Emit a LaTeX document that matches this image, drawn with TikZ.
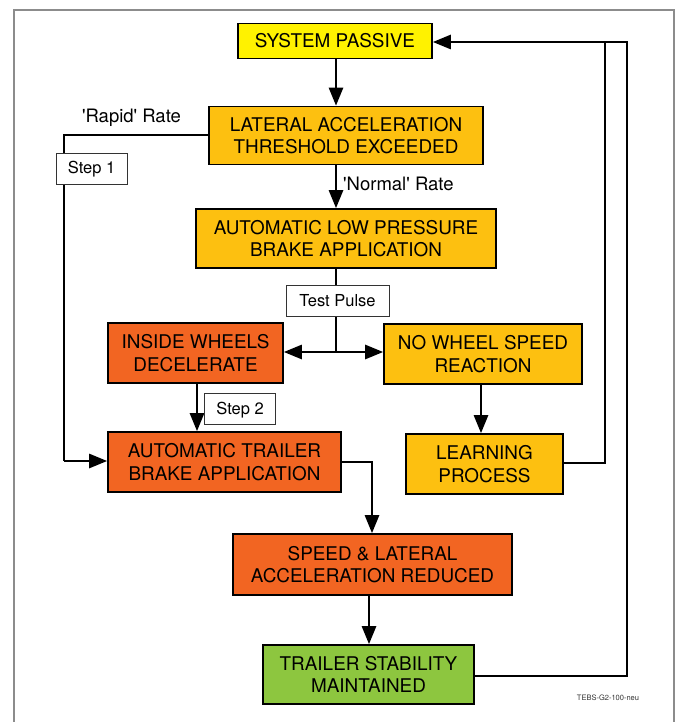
\documentclass[tikz,border=0pt]{standalone}
\usepackage{fontspec}
\setmainfont{TeX Gyre Heros}
\usetikzlibrary{arrows.meta}
\definecolor{cyel}{HTML}{FFF200}
\definecolor{cora}{HTML}{FDC010}
\definecolor{cred}{HTML}{F26522}
\definecolor{cgrn}{HTML}{8DC63F}
\begin{document}
\begin{tikzpicture}[x=1pt,y=-1pt,
  box/.style={draw=black, line width=1.6pt, align=center, inner sep=0pt, font=\fontsize{18.9}{22.7}\selectfont},
  tag/.style={draw=black!80, line width=0.8pt, fill=white, inner sep=0pt, text height=11pt, text depth=0pt, font=\fontsize{16.5}{19}\selectfont},
  lbl/.style={font=\fontsize{18.5}{21}\selectfont, inner sep=0pt, anchor=base},
  conn/.style={line width=2.6pt},
  arr/.style={conn, -{Triangle[length=18pt,width=14pt]}},
]
\useasboundingbox (0,0) rectangle (677,722);
\draw[black!45, line width=1.2pt] (14,740) -- (14,10) -- (674,10) -- (674,740);

\node[box, fill=cyel, minimum width=194pt, minimum height=35pt] (sp) at (335,41) {SYSTEM PASSIVE};
\node[box, fill=cora, minimum width=274pt, minimum height=58pt] (lat) at (346,135.5) {LATERAL ACCELERATION\\THRESHOLD EXCEEDED};
\node[box, fill=cora, minimum width=300pt, minimum height=59pt] (low) at (346,238.5) {AUTOMATIC LOW PRESSURE\\BRAKE APPLICATION};
\node[box, fill=cred, minimum width=175pt, minimum height=60pt] (iw) at (195.5,353) {INSIDE WHEELS\\DECELERATE};
\node[box, fill=cora, minimum width=198pt, minimum height=60pt] (nw) at (483,354) {NO WHEEL SPEED\\REACTION};
\node[box, fill=cred, minimum width=233pt, minimum height=60pt] (atb) at (224.5,462) {AUTOMATIC TRAILER\\BRAKE APPLICATION};
\node[box, fill=cora, minimum width=157pt, minimum height=60pt] (lp) at (484.5,464) {LEARNING\\PROCESS};
\node[box, fill=cred, minimum width=279pt, minimum height=61pt] (sl) at (372.5,564.5) {SPEED \& LATERAL\\ACCELERATION REDUCED};
\node[box, fill=cgrn, minimum width=211pt, minimum height=59pt] (ts) at (368.5,674.5) {TRAILER STABILITY\\MAINTAINED};

\coordinate (jn) at (336,352);
\coordinate (c1) at (64,135);
\coordinate (c2) at (64,461);
\coordinate (c3) at (372,462);
\coordinate (c4) at (605,463);
\coordinate (c5) at (605,42);
\coordinate (c6) at (627,676);
\coordinate (c7) at (627,42);

\draw[arr] (336,0 |- sp.south) -- (336,0 |- lat.north);
\draw[arr] (336,0 |- lat.south) -- (336,0 |- low.north);
\draw[conn] (336,0 |- low.south) -- (jn);
\draw[arr] (jn) -- (jn -| iw.east);
\draw[arr] (jn) -- (jn -| nw.west);
\draw[conn, line join=miter] (lat.west |- c1) -- (c1) -- (c2);
\draw[arr] (c2) -- (c2 -| atb.west);
\draw[arr] (197,0 |- iw.south) -- (197,0 |- atb.north);
\draw[arr] (481,0 |- nw.south) -- (481,0 |- lp.north);
\draw[arr, line join=miter] (atb.east |- c3) -- (c3) -- (c3 |- sl.north);
\draw[arr] (369,0 |- sl.south) -- (369,0 |- ts.north);
\draw[conn, line join=miter] (lp.east |- c4) -- (c4) -- (c5);
\draw[arr, line join=miter] (ts.east |- c6) -- (c6) -- (c7) -- (c7 -| sp.east);

\node[tag, minimum width=103pt, minimum height=31pt] (tp) at (337.5,301) {Test Pulse};
\node[tag, minimum width=71pt, minimum height=31pt] (s1) at (91.5,168.5) {Step 1};
\node[tag, minimum width=71pt, minimum height=31pt] (s2) at (240,408.5) {Step 2};

\node[lbl] (rr) at (131.5,123) {\textquotesingle Rapid\textquotesingle{} Rate};
\node[lbl, anchor=base west] (nr) at (343,190) {\textquotesingle Normal\textquotesingle{} Rate};
\node[font=\fontsize{7.5}{9}\selectfont, text=black!80, inner sep=0pt] (id) at (608,698) {TEBS-G2-100-neu};
\end{tikzpicture}
\end{document}
